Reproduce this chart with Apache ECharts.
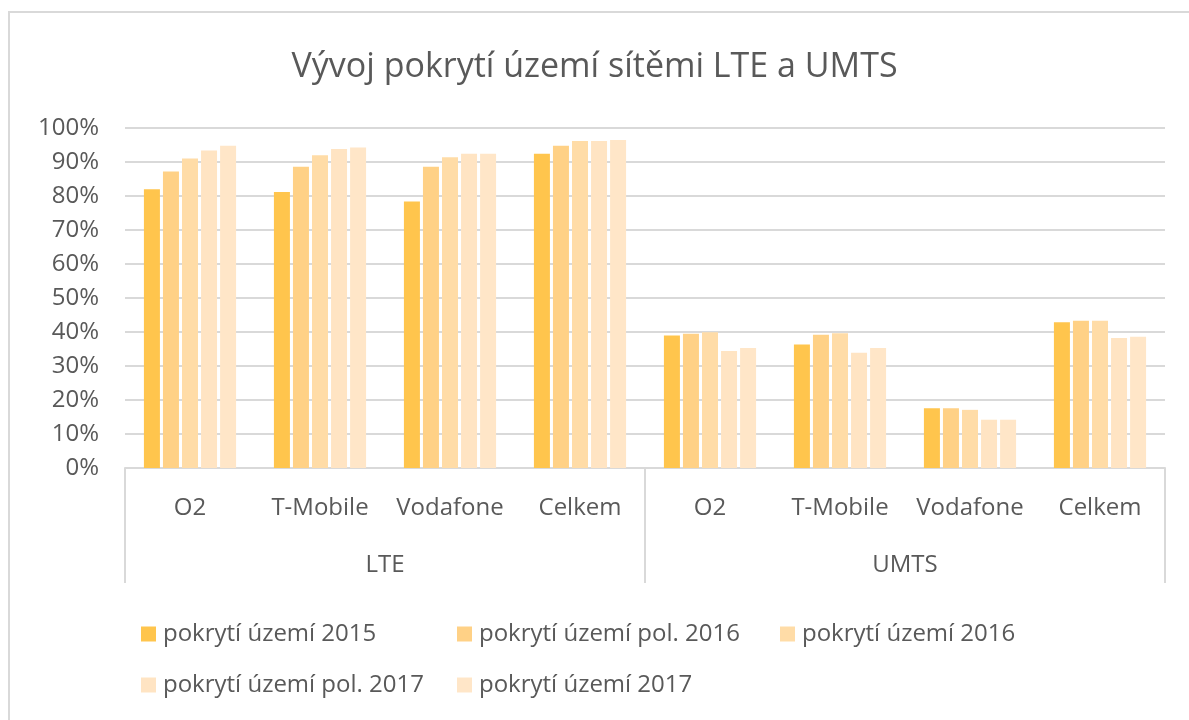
<!DOCTYPE html>
<html>
<head>
<meta charset="utf-8">
<script src="https://cdn.jsdelivr.net/npm/echarts@6/dist/echarts.min.js"></script>
<style>
  html, body { margin: 0; padding: 0; background: #fff; }
  #frame {
    position: absolute; left: 8px; top: 11px; width: 1181px; height: 709px;
    border-top: 2px solid #d9d9d9; border-left: 2px solid #d9d9d9; box-sizing: border-box;
  }
  #main { position: absolute; left: 0; top: 0; width: 1189px; height: 720px; }
</style>
</head>
<body>
<div id="frame"></div>
<div id="main"></div>
<script>
// categories
const operators = ["O2", "T-Mobile", "Vodafone", "Celkem", "O2", "T-Mobile", "Vodafone", "Celkem"];
const networks = ["LTE", "UMTS"];
const seriesNames = [
  "pokrytí území 2015",
  "pokrytí území pol. 2016",
  "pokrytí území 2016",
  "pokrytí území pol. 2017",
  "pokrytí území 2017"
];
// values (share of territory)
const cov2015    = [0.820, 0.812, 0.784, 0.924, 0.390, 0.363, 0.176, 0.429];
const covH1_2016 = [0.872, 0.886, 0.886, 0.948, 0.395, 0.392, 0.176, 0.433];
const cov2016    = [0.910, 0.920, 0.914, 0.962, 0.399, 0.396, 0.171, 0.433];
const covH1_2017 = [0.934, 0.938, 0.924, 0.962, 0.344, 0.339, 0.142, 0.382];
const cov2017    = [0.948, 0.943, 0.924, 0.965, 0.353, 0.353, 0.142, 0.386];
const yTicks = [0, 0.1, 0.2, 0.3, 0.4, 0.5, 0.6, 0.7, 0.8, 0.9, 1.0];

const colors = ["#ffc54d", "#ffd186", "#ffdca7", "#ffe4c3", "#ffe6c8"];
const allData = [cov2015, covH1_2016, cov2016, covH1_2017, cov2017];
const font = "'Open Sans', sans-serif";
const txt = "#595959";

// Excel lays legend entries out in fixed columns; one legend per column
function legendColumn(left, names) {
  return {
    left: left,
    top: 617,
    orient: "vertical",
    itemWidth: 15,
    itemHeight: 15,
    itemGap: 27,
    icon: "rect",
    textStyle: { fontFamily: font, fontSize: 24, color: txt, padding: [0, 0, 0, 2] },
    data: names
  };
}

const chart = echarts.init(document.getElementById("main"));
chart.setOption({
  animation: false,
  color: colors,
  title: {
    text: "Vývoj pokrytí území sítěmi LTE a UMTS",
    left: "center",
    top: 45,
    textStyle: { fontFamily: font, fontSize: 34, fontWeight: "normal", color: txt }
  },
  legend: [
    legendColumn(136, [seriesNames[0], seriesNames[3]]),
    legendColumn(452, [seriesNames[1], seriesNames[4]]),
    legendColumn(775, [seriesNames[2]])
  ],
  grid: { left: 125, right: 24, top: 128, bottom: 252 },
  xAxis: [
    {
      type: "category",
      data: operators,
      position: "bottom",
      axisLine: { lineStyle: { color: "#d9d9d9", width: 2 } },
      axisTick: { show: false },
      axisLabel: { fontFamily: font, fontSize: 24, color: txt, margin: 28, interval: 0 }
    },
    {
      type: "category",
      data: networks,
      position: "bottom",
      axisLine: { show: false },
      axisTick: { show: true, length: 115, lineStyle: { color: "#d9d9d9", width: 2 } },
      axisLabel: { fontFamily: font, fontSize: 24, color: txt, margin: 85 }
    }
  ],
  yAxis: {
    type: "value",
    min: yTicks[0],
    max: yTicks[yTicks.length - 1],
    interval: 0.1,
    axisLine: { show: false },
    axisTick: { show: false },
    splitLine: { lineStyle: { color: "#d9d9d9", width: 2 } },
    axisLabel: {
      fontFamily: font, fontSize: 24, color: txt, margin: 26,
      formatter: v => Math.round(v * 100) + "%"
    }
  },
  series: seriesNames.map((name, i) => ({
    name: name,
    type: "bar",
    xAxisIndex: 0,
    data: allData[i],
    barWidth: 16,
    barGap: "19%",
    itemStyle: { color: colors[i] }
  }))
});
</script>
</body>
</html>
